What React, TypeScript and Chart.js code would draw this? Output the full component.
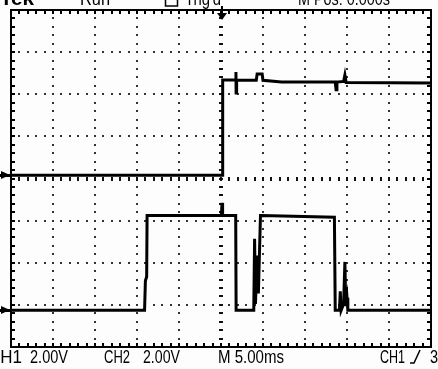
import React, { useEffect, useRef } from "react";
import { Chart, registerables } from "chart.js";

Chart.register(...registerables);

// Time base: 5 ms/div, 10 divisions; vertical: 2 V/div, 8 divisions
const timeRange = [-25, 25];
const divRange = [-4, 4];
const voltsPerDiv = 2;
const ch1Position = 0.08; // divisions
const ch2Position = -3.13; // divisions

const ch1Times = [-25, 0.15, 0.2, 1.7, 1.78, 1.8, 1.86, 4.2, 4.3, 4.9, 5.0, 7.2, 9.5, 13.6, 13.7, 13.8, 14.6, 14.75, 14.9, 25];
const ch1Volts = [0, 0, 4.52, 4.52, 4.9, 3.9, 4.5, 4.5, 4.8, 4.8, 4.5, 4.42, 4.42, 4.42, 4.05, 4.42, 4.45, 4.75, 4.4, 4.38];

const ch2Times = [-25, -9.1, -9.0, -8.85, -8.8, 0.05, 0.12, 0.19, 1.75, 1.8, 3.9, 4.0, 4.1, 4.3, 4.45, 4.7, 4.8, 13.5, 13.6, 14.1, 14.2, 14.3, 14.6, 14.75, 14.85, 15.0, 15.1, 25];
const ch2Volts = [0, 0, 1.4, 1.6, 4.5, 4.5, 5.1, 4.5, 4.5, 0, 0, 3.4, 0.3, 2.6, 0.8, 4.5, 4.5, 4.42, 0, 0, 0.9, 0, 0.3, 2.3, 0.2, 0.6, 0, 0];

const bottomLabels = ["CH1", "2.00V", "CH2", "2.00V", "M 5.00ms", "CH1", "3.12V"];
const topLabels = ["Tek", "Run", "Trig'd", "M Pos: 0.000s"];

function toPoints(times: number[], volts: number[], pos: number) {
  return times.map((t, i) => ({ x: t, y: pos + volts[i] / voltsPerDiv }));
}

function drawFit(ctx: CanvasRenderingContext2D, text: string, x: number, base: number, width: number, font: string) {
  ctx.save();
  ctx.font = font;
  const w = ctx.measureText(text).width;
  ctx.translate(x, base);
  ctx.scale(width / w, 1);
  ctx.fillText(text, 0, 0);
  ctx.restore();
}

const scopePlugin = {
  id: "scope",
  beforeDraw(chart: any) {
    const ctx = chart.ctx as CanvasRenderingContext2D;
    ctx.save();
    ctx.fillStyle = "#fdfdfd";
    ctx.fillRect(0, 0, chart.width, chart.height);
    ctx.restore();
  },
  beforeDatasetsDraw(chart: any) {
    const ctx = chart.ctx as CanvasRenderingContext2D;
    const a = chart.chartArea;
    const xs = chart.scales.x;
    const ys = chart.scales.y;
    ctx.save();
    ctx.fillStyle = "#333";
    const nx = 50, ny = 40;
    const xAt = (m: number) => Math.round(xs.getPixelForValue(timeRange[0] + m));
    const yAt = (m: number) => Math.round(ys.getPixelForValue(divRange[0] + m * 0.2));
    // dotted grid
    for (let i = 1; i < 10; i++) {
      if (i === 5) continue;
      const px = xAt(i * 5);
      for (let m = 1; m < ny; m++) ctx.fillRect(px - 1, yAt(m) - 1, 2, 2);
    }
    for (let j = 1; j < 8; j++) {
      if (j === 4) continue;
      const py = yAt(j * 5);
      for (let m = 1; m < nx; m++) ctx.fillRect(xAt(m) - 1, py - 1, 2, 2);
    }
    // centre axes ticks
    ctx.fillStyle = "#111";
    const cx = xAt(25);
    const cy = yAt(20);
    for (let m = 1; m < ny; m++) ctx.fillRect(cx - 2, yAt(m) - 1, 4, 2);
    for (let m = 1; m < nx; m++) ctx.fillRect(xAt(m) - 1, cy - 2, 2, 4);
    // frame
    ctx.fillStyle = "#000";
    ctx.strokeStyle = "#000";
    ctx.lineWidth = 2;
    ctx.strokeRect(a.left, a.top, a.right - a.left, a.bottom - a.top);
    for (let m = 1; m < nx; m++) {
      ctx.fillRect(xAt(m) - 1, a.top, 2, 4);
      ctx.fillRect(xAt(m) - 1, a.bottom - 4, 2, 4);
    }
    for (let m = 1; m < ny; m++) {
      ctx.fillRect(a.left, yAt(m) - 1, 4, 2);
      ctx.fillRect(a.right - 4, yAt(m) - 1, 4, 2);
    }
    ctx.restore();
  },
  afterDraw(chart: any) {
    const ctx = chart.ctx as CanvasRenderingContext2D;
    const a = chart.chartArea;
    const xs = chart.scales.x;
    const ys = chart.scales.y;
    ctx.save();
    ctx.fillStyle = "#000";
    ctx.strokeStyle = "#000";
    // ground markers
    [ch1Position, ch2Position].forEach((p) => {
      const y = Math.round(ys.getPixelForValue(p));
      ctx.beginPath();
      ctx.moveTo(1, y - 4);
      ctx.lineTo(a.left - 1, y);
      ctx.lineTo(1, y + 4);
      ctx.closePath();
      ctx.fill();
      ctx.fillRect(0, y - 1, a.left, 3);
    });
    // trigger position marker
    const cx = Math.round(xs.getPixelForValue(0)) + 1;
    ctx.fillRect(cx - 1, a.top - 4, 2, 8);
    ctx.beginPath();
    ctx.moveTo(cx - 5, a.top + 3);
    ctx.lineTo(cx + 5, a.top + 3);
    ctx.lineTo(cx, a.top + 10);
    ctx.closePath();
    ctx.fill();
    // top readout (clipped at the top edge)
    drawFit(ctx, topLabels[0], 0, 5, 34, "bold 20px 'Liberation Sans'");
    drawFit(ctx, topLabels[1], 80, 5, 30, "18px 'Liberation Sans'");
    ctx.lineWidth = 1.5;
    ctx.strokeRect(165.5, -8, 12, 14);
    drawFit(ctx, topLabels[2], 185, 5, 36, "18px 'Liberation Sans'");
    drawFit(ctx, topLabels[3], 298, 5, 92, "18px 'Liberation Sans'");
    // bottom readout
    const f = "18px 'Liberation Sans'";
    drawFit(ctx, bottomLabels[0], -12, 363, 34, f);
    drawFit(ctx, bottomLabels[1], 30, 363, 38, f);
    drawFit(ctx, bottomLabels[2], 104, 363, 26, f);
    drawFit(ctx, bottomLabels[3], 143, 363, 37, f);
    drawFit(ctx, bottomLabels[4], 218, 363, 66, f);
    drawFit(ctx, bottomLabels[5], 380, 363, 25, f);
    ctx.lineWidth = 1.5;
    ctx.beginPath();
    ctx.moveTo(410, 363);
    ctx.lineTo(414, 363);
    ctx.lineTo(420, 350);
    ctx.stroke();
    drawFit(ctx, bottomLabels[6], 430, 363, 38, f);
    ctx.restore();
  },
};

export default function App() {
  const ref = useRef<HTMLCanvasElement | null>(null);
  useEffect(() => {
    if (!ref.current) return;
    const chart = new Chart(ref.current, {
      type: "line",
      data: {
        datasets: [
          {
            label: "CH1",
            data: toPoints(ch1Times, ch1Volts, ch1Position),
            borderColor: "#000",
            borderWidth: 3,
            pointRadius: 0,
            tension: 0,
            fill: false,
            borderJoinStyle: "miter",
          },
          {
            label: "CH2",
            data: toPoints(ch2Times, ch2Volts, ch2Position),
            borderColor: "#000",
            borderWidth: 3,
            pointRadius: 0,
            tension: 0,
            fill: false,
            borderJoinStyle: "miter",
          },
        ],
      },
      options: {
        animation: false,
        responsive: false,
        devicePixelRatio: 1,
        events: [],
        layout: { padding: { left: 11, right: 7, top: 10, bottom: 22 } },
        plugins: { legend: { display: false }, tooltip: { enabled: false } },
        scales: {
          x: { type: "linear", min: timeRange[0], max: timeRange[1], display: false },
          y: { type: "linear", min: divRange[0], max: divRange[1], display: false },
        },
      },
      plugins: [scopePlugin],
    } as any);
    return () => chart.destroy();
  }, []);
  return (
    <div style={{ position: "fixed", left: 0, top: 0, width: 438, height: 369 }}>
      <canvas ref={ref} width={438} height={369} />
    </div>
  );
}
